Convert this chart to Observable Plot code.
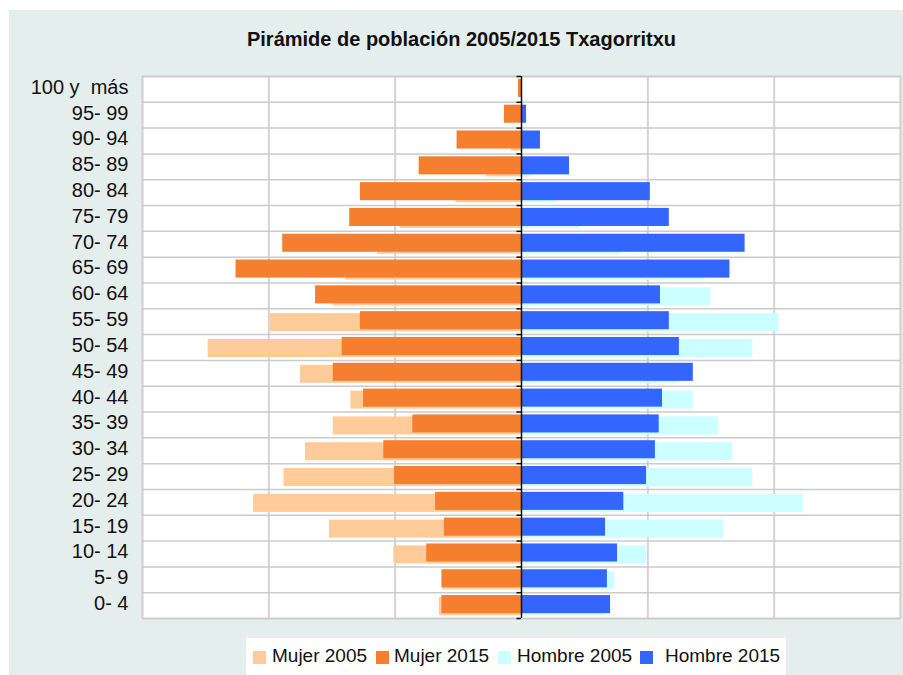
<!DOCTYPE html>
<html><head><meta charset="utf-8">
<script src="https://cdn.jsdelivr.net/npm/d3@7"></script>
<script src="https://cdn.jsdelivr.net/npm/@observablehq/plot@0.6"></script>
<style>
body{margin:0;background:#fff;}
#wrap{position:relative;width:903px;height:675px;overflow:hidden;font-family:"Liberation Sans",Arial,sans-serif;}
#panel{position:absolute;left:9px;top:10px;width:894px;height:665px;background:#e4eeec;}
#title{position:absolute;left:0;width:923px;top:29px;text-align:center;font-weight:bold;font-size:20px;line-height:20px;color:#111;white-space:nowrap;}
#chart{position:absolute;left:0;top:0;}
#legend{position:absolute;left:246px;top:638px;width:540px;height:37px;background:#fff;}
.sw{position:absolute;top:13px;width:13px;height:13px;}
.lt{position:absolute;top:8px;font-size:19px;line-height:19px;color:#111;white-space:nowrap;}
</style></head>
<body>
<div id="wrap">
  <div id="panel"></div>
  <div id="title"></div>
  <div id="chart"></div>
  <div id="legend"></div>
</div>
<script>
const title = "Pirámide de población 2005/2015 Txagorritxu";
const categories = ["100 y\u00a0 más","95- 99","90- 94","85- 89","80- 84","75- 79","70- 74","65- 69","60- 64","55- 59","50- 54","45- 49","40- 44","35- 39","30- 34","25- 29","20- 24","15- 19","10- 14","5- 9","0- 4"];
const mujer2005  = [0, 0, 8, 28, 52, 96, 114, 139, 149, 199, 248, 175, 135, 149, 171, 188, 212, 152, 101, 62, 65];
const mujer2015  = [2.4, 13.5, 51, 81, 127.5, 136, 189, 226, 163, 127.5, 142, 149, 125, 86, 109, 100.5, 68, 61, 75, 63, 63];
const hombre2005 = [0, 0, 2.4, 8, 28, 46, 77.6, 145, 150, 204, 183, 125, 136, 156, 167, 183, 223, 160, 99, 73.6, 68];
const hombre2015 = [0, 4, 15, 38, 102, 117, 177, 165, 110, 117, 125, 136, 111.6, 109, 106, 99, 81, 66.5, 76, 68, 70.5];
const seriesNames = ["Mujer 2005", "Mujer 2015", "Hombre 2005", "Hombre 2015"];
const seriesColors = ["#ffcc99", "#f57f2f", "#ccffff", "#3366ff"];
const gridValues = [-300, -200, -100, 100, 200, 300];

document.getElementById("title").textContent = title;

const rows = categories.map((c, i) => ({
  c, m05: -mujer2005[i], m15: -mujer2015[i], h05: hombre2005[i], h15: hombre2015[i]
}));

const W = 903, H = 675, mT = 76, mB = 57, mL = 142, mR = 3;
const step = (H - mT - mB) / categories.length;

const chart = Plot.plot({
  width: W, height: H,
  marginLeft: mL, marginRight: mR, marginTop: mT, marginBottom: mB,
  style: {fontFamily: "'Liberation Sans', Arial, sans-serif", fontSize: "20px", background: "transparent", color: "#111", overflow: "visible"},
  x: {domain: [-300, 300], axis: null},
  y: {domain: categories, paddingInner: 0.3, paddingOuter: 0.15, round: false, axis: null, label: null},
  marks: [
    Plot.frame({fill: "white", stroke: "#c8c8c8", strokeWidth: 1.5}),
    Plot.ruleX(gridValues, {stroke: "#d4d4d4", strokeWidth: 2}),
    Plot.ruleY(categories, {y: d => d, dy: -step / 2, stroke: "#cbcbcb", strokeWidth: 1.5}),
    Plot.ruleY(categories.slice(-1), {y: d => d, dy: step / 2, stroke: "#cbcbcb", strokeWidth: 1.5}),
    Plot.barX(rows, {y: "c", x1: 0, x2: "m05", fill: seriesColors[0], dy: 1}),
    Plot.barX(rows, {y: "c", x1: 0, x2: "h05", fill: seriesColors[2], dy: 1}),
    Plot.barX(rows, {y: "c", x1: 0, x2: "m15", fill: seriesColors[1], dy: -1}),
    Plot.barX(rows, {y: "c", x1: 0, x2: "h15", fill: seriesColors[3], dy: -1}),
    Plot.axisY({tickSize: 0, tickPadding: 14, dy: -2, fontSize: 20, fill: "#111", label: null}),
    Plot.ruleX([0], {stroke: "#111", strokeWidth: 1.5}),
    Plot.ruleY(categories, {y: d => d, x1: -3.6, x2: 0, dy: -step / 2, stroke: "#111", strokeWidth: 1.5}),
    Plot.ruleY(categories.slice(-1), {y: d => d, x1: -3.6, x2: 0, dy: step / 2, stroke: "#111", strokeWidth: 1.5})
  ]
});
document.getElementById("chart").appendChild(chart);

// legend
const legend = document.getElementById("legend");
const swLeft = [7, 130, 252, 394];
const txLeft = [26, 148, 271, 419];
seriesNames.forEach((n, i) => {
  const s = document.createElement("div");
  s.className = "sw"; s.style.left = swLeft[i] + "px"; s.style.background = seriesColors[i];
  legend.appendChild(s);
  const t = document.createElement("div");
  t.className = "lt"; t.style.left = txLeft[i] + "px"; t.textContent = n;
  legend.appendChild(t);
});
</script>
</body></html>
